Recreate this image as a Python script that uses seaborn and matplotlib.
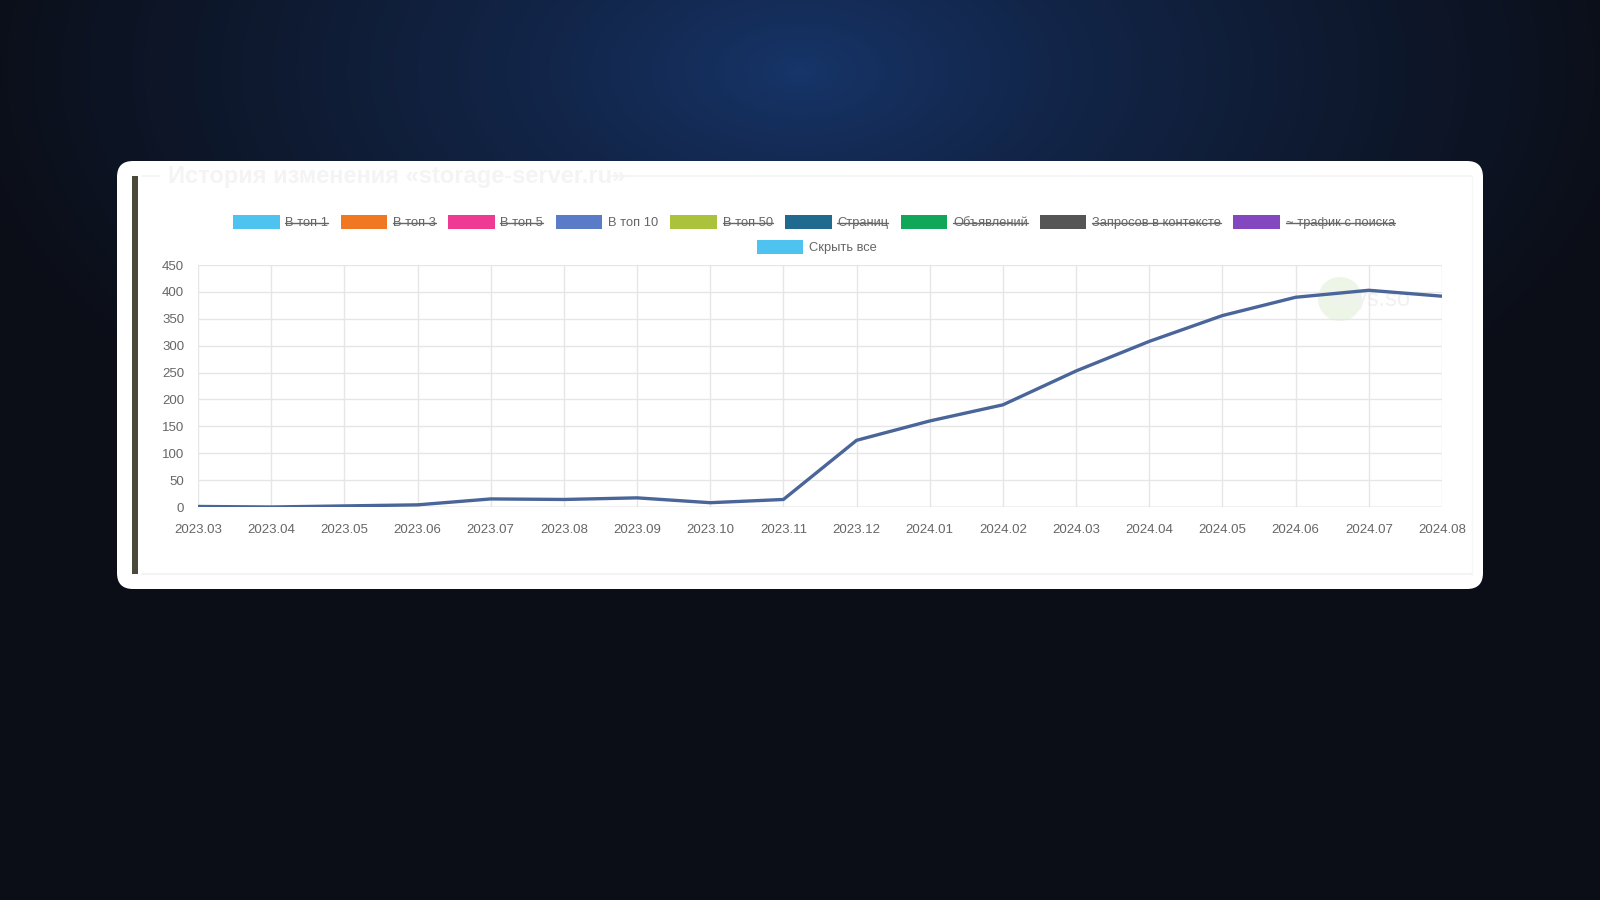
import numpy as np
import pandas as pd
import matplotlib.pyplot as plt
import seaborn as sns
from matplotlib.patches import FancyBboxPatch, Patch, Circle, Rectangle
from matplotlib.lines import Line2D

# Data
months = ['2023.03', '2023.04', '2023.05', '2023.06', '2023.07', '2023.08',
          '2023.09', '2023.10', '2023.11', '2023.12', '2024.01', '2024.02',
          '2024.03', '2024.04', '2024.05', '2024.06', '2024.07', '2024.08']
top10 = [1, 0, 2, 4, 15, 14, 17, 8, 14, 124, 160, 190,
         253, 308, 356, 390, 403, 392]

legend_labels = ['В топ 1', 'В топ 3', 'В топ 5', 'В топ 10', 'В топ 50',
                 'Страниц', 'Объявлений', 'Запросов в контексте', '~ трафик с поиска']
legend_colors = ['#4fc3f0', '#f07822', '#ee3a93', '#5a7cc8', '#aac23c',
                 '#1f6a8e', '#10a858', '#555555', '#8348c0']
legend_hidden = [True, True, True, False, True, True, True, True, True]
title = 'История изменения «storage-server.ru»'

df = pd.DataFrame({'month': months, 'value': top10})

sns.set_theme(style='white')
plt.rcParams['font.family'] = ['Liberation Sans', 'DejaVu Sans']

W, H = 1600, 900
fig = plt.figure(figsize=(16, 9), dpi=100)

# ========== background (pixel coordinates) ==========
bg = fig.add_axes([0, 0, 1, 1])
bg.set_xlim(0, W)
bg.set_ylim(H, 0)
bg.axis('off')

yy, xx = np.mgrid[0:H, 0:W]
d = np.sqrt(((xx - 800) / 850.0) ** 2 + ((yy - 70) / 480.0) ** 2)
t = np.clip(d, 0, 1) ** 0.75
c_in = np.array([0x17, 0x36, 0x6c]) / 255
c_out = np.array([0x0b, 0x0e, 0x17]) / 255
img = c_in[None, None, :] * (1 - t[..., None]) + c_out[None, None, :] * t[..., None]
bg.imshow(img, extent=[0, W, H, 0], aspect='auto', zorder=0)

# white card
card = FancyBboxPatch((117, 161), 1366, 428,
                      boxstyle='round,pad=0,rounding_size=16',
                      facecolor='white', edgecolor='none', zorder=1)
bg.add_patch(card)

# dark bar on the left
bg.add_patch(Rectangle((132, 176), 6, 398, facecolor='#4b4a3a', edgecolor='none', zorder=2))

# faint fieldset borders and title
fs = '#f3f3f3'
bg.plot([142, 160], [176, 176], color=fs, lw=1.2, zorder=2)
bg.plot([612, 1472], [176, 176], color=fs, lw=1.2, zorder=2)
bg.plot([142, 1472], [574, 574], color=fs, lw=1.5, zorder=2)
bg.plot([1472, 1472], [176, 574], color='#f7f7f7', lw=1.0, zorder=2)
bg.text(168, 176, title, fontsize=17, fontweight='bold', color='#f4f4f4',
        va='center', ha='left', zorder=2)

# watermark
bg.add_patch(Circle((1340, 299), 22, facecolor='#edf6e6', edgecolor='none', zorder=2))
bg.text(1330, 300, 'keys.so', fontsize=17, color='#f1f1f1', va='center', ha='left', zorder=3)

# ========== main chart ==========
left, right, top, bottom = 198, 1442, 265, 507
ax = fig.add_axes([left / W, 1 - bottom / H, (right - left) / W, (bottom - top) / H])
ax.set_facecolor('none')

sns.lineplot(data=df, x='month', y='value', ax=ax, color='#4a6599',
             linewidth=2.4, sort=False, zorder=5)

ax.set_xlim(0, len(months) - 1)
ax.set_ylim(0, 450)
ax.set_yticks(range(0, 451, 50))
ax.set_xlabel('')
ax.set_ylabel('')
ax.grid(True, color='#e6e6e6', linewidth=1)
for s in ax.spines.values():
    s.set_visible(False)
ax.axhline(0, color='#d0d0d0', linewidth=1, zorder=3)
ax.tick_params(axis='y', length=7, color='#e6e6e6', pad=3, labelsize=9.5, labelcolor='#666666')
ax.tick_params(axis='x', length=0, pad=12, labelsize=9.5, labelcolor='#666666')

# ========== legend ==========
handles = [Patch(facecolor=c, edgecolor='none') for c in legend_colors]
leg_kw = dict(frameon=False, fontsize=9.3, handlelength=3.6, handleheight=1.3,
              handletextpad=0.45, columnspacing=0.95, borderpad=0, borderaxespad=0,
              loc='center', bbox_transform=fig.transFigure, labelcolor='#666666')
leg1 = fig.legend(handles, legend_labels, ncol=len(legend_labels),
                  bbox_to_anchor=(814 / W, 1 - 222 / H), **leg_kw)
leg2 = fig.legend([Patch(facecolor='#4fc3f0', edgecolor='none')], ['Скрыть все'],
                  bbox_to_anchor=(817 / W, 1 - 247 / H), **leg_kw)

# strike through hidden series labels
fig.canvas.draw()
renderer = fig.canvas.get_renderer()
inv = fig.transFigure.inverted()
for txt, hidden in zip(leg1.get_texts(), legend_hidden):
    if not hidden:
        continue
    bb = txt.get_window_extent(renderer)
    ym = (bb.y0 + bb.y1) / 2
    p0 = inv.transform((bb.x0, ym))
    p1 = inv.transform((bb.x1, ym))
    fig.add_artist(Line2D([p0[0], p1[0]], [p0[1], p1[1]], color='#666666',
                          linewidth=1, transform=fig.transFigure))

fig.savefig('out.png', dpi=100)
